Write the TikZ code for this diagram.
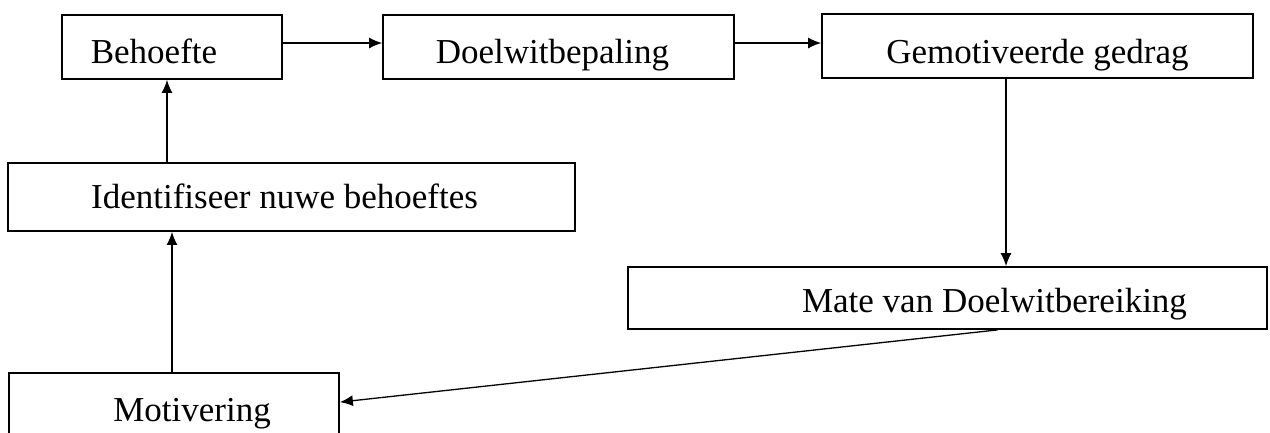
\documentclass[tikz,border=0pt]{standalone}
\usepackage{fontspec}
\setmainfont{Liberation Serif}
\usetikzlibrary{arrows.meta}
\tikzset{
  boxnode/.style={draw, line width=1.8pt, inner sep=0pt, rectangle},
  txt/.style={font=\fontsize{35}{40}\selectfont, text height=24pt, text depth=8pt, inner sep=0pt},
  conn/.style={line width=1.3pt, -{Latex[length=13pt,width=11pt]}}
}
\begin{document}
\begin{tikzpicture}[x=1pt,y=-1pt]
\useasboundingbox (0,0) rectangle (1270,432);
\node[boxnode, minimum width=220pt, minimum height=64pt,
  label={[txt, xshift=-18pt, yshift=-8pt]center:Behoefte}] (beh) at (172,47) {};
\node[boxnode, minimum width=351pt, minimum height=64pt,
  label={[txt, xshift=-6pt, yshift=-8pt]center:Doelwitbepaling}] (doel) at (558.5,47) {};
\node[boxnode, minimum width=431pt, minimum height=64pt,
  label={[txt, yshift=-9pt]center:Gemotiveerde gedrag}] (gem) at (1037.5,46) {};
\node[boxnode, minimum width=567pt, minimum height=68pt,
  label={[txt, xshift=-7pt, yshift=-3pt]center:Identifiseer nuwe behoeftes}] (iden) at (291.5,197) {};
\node[boxnode, minimum width=639pt, minimum height=62pt,
  label={[txt, xshift=47pt, yshift=-6pt]center:Mate van Doelwitbereiking}] (mate) at (947.5,298) {};
\node[boxnode, minimum width=330pt, minimum height=74pt,
  label={[txt, xshift=18pt, yshift=-3pt]center:Motivering}] (mot) at (174,410) {};

\coordinate (a1) at ([xshift=-5pt]beh.south);
\coordinate (a2) at ([xshift=-2pt]mot.north);
\coordinate (a3) at ([xshift=-31.5pt]gem.south);

\draw[conn] ([yshift=4pt]beh.east) -- ([yshift=4pt]doel.west);
\draw[conn] ([yshift=4pt]doel.east) -- ([yshift=3pt]gem.west);
\draw[conn] (a3) -- (a3 |- mate.north);
\draw[conn] ([xshift=50pt]mate.south) -- ([yshift=-30pt]mot.north east);
\draw[conn] (a2) -- (a2 |- iden.south);
\draw[conn] (iden.north -| a1) -- (a1);
\end{tikzpicture}
\end{document}
